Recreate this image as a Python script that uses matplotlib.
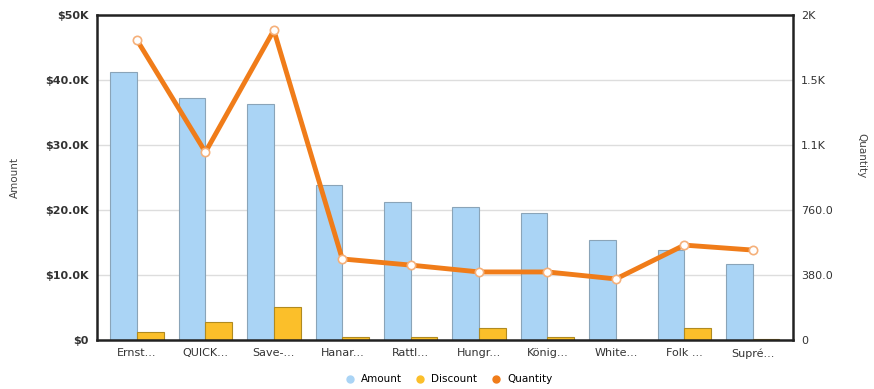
import matplotlib.pyplot as plt
from matplotlib.lines import Line2D
import numpy as np

customers = ["Ernst...", "QUICK...", "Save-...", "Hanar...", "Rattl...",
             "Hungr...", "König...", "White...", "Folk ...", "Supré..."]
amount = [41200, 37200, 36300, 23800, 21200, 20500, 19500, 15400, 13800, 11700]
discount = [1200, 2800, 5100, 400, 500, 1800, 500, 0, 1900, 100]
quantity = [1754, 1099, 1812, 474, 438, 398, 398, 357, 555, 526]

amount_ticks = [0, 10000, 20000, 30000, 40000, 50000]
amount_labels = ["$0", "$10.0K", "$20.0K", "$30.0K", "$40.0K", "$50K"]
qty_ticks = [0, 380, 760, 1140, 1520, 1900]
qty_labels = ["0", "380.0", "760.0", "1.1K", "1.5K", "2K"]

blue = "#aad4f5"
yellow = "#fbbf2a"
orange = "#f07c19"

plt.rcParams['font.family'] = ['DejaVu Sans']

fig = plt.figure(figsize=(8.74, 3.89), dpi=100)
ax = fig.add_axes([0.111, 0.126, 0.796, 0.835])
x = np.arange(len(customers))
w = 0.39

ax.bar(x, amount, width=-w, align='edge', color=blue, edgecolor="#8aa4b8",
       linewidth=0.8, zorder=2)
ax.bar(x, discount, width=w, align='edge', color=yellow, edgecolor="#b08a20",
       linewidth=0.8, zorder=2)

ax.set_xlim(-0.585, 9.585)
ax.set_ylim(0, 50000)
ax.set_yticks(amount_ticks)
ax.set_yticklabels(amount_labels, fontsize=8, fontweight='bold', color="#333333")
ax.set_xticks(x)
ax.set_xticklabels(customers, fontsize=8, color="#333333")
ax.tick_params(axis='both', length=0, pad=6)
ax.grid(axis='y', color="#dddddd", linewidth=1, zorder=0)
for s in ax.spines.values():
    s.set_linewidth(1.8)
    s.set_color("#222222")
ax.set_ylabel("Amount", fontsize=7.5, color="#444444", labelpad=18)

ax2 = ax.twinx()
ax2.plot(x, quantity, color=orange, linewidth=3.5, zorder=3,
         marker='o', markersize=6, markerfacecolor='white',
         markeredgecolor="#f5b07a", markeredgewidth=1.2)
ax2.set_ylim(0, 1900)
ax2.set_yticks(qty_ticks)
ax2.set_yticklabels(qty_labels, fontsize=8, color="#333333")
ax2.tick_params(axis='y', length=0, pad=6)
for s in ax2.spines.values():
    s.set_visible(False)
fig.text(0.985, 0.6, "Quantity", fontsize=7.5, color="#444444", rotation=270,
         ha='center', va='center')

handles = [Line2D([], [], marker='o', linestyle='', color=c, markersize=5)
           for c in (blue, yellow, orange)]
fig.legend(handles, ["Amount", "Discount", "Quantity"], loc='center',
           bbox_to_anchor=(0.51, 0.025), ncol=3, frameon=False, fontsize=7.5,
           handletextpad=0.05, columnspacing=0.8)

fig.savefig("out.png", dpi=100)
